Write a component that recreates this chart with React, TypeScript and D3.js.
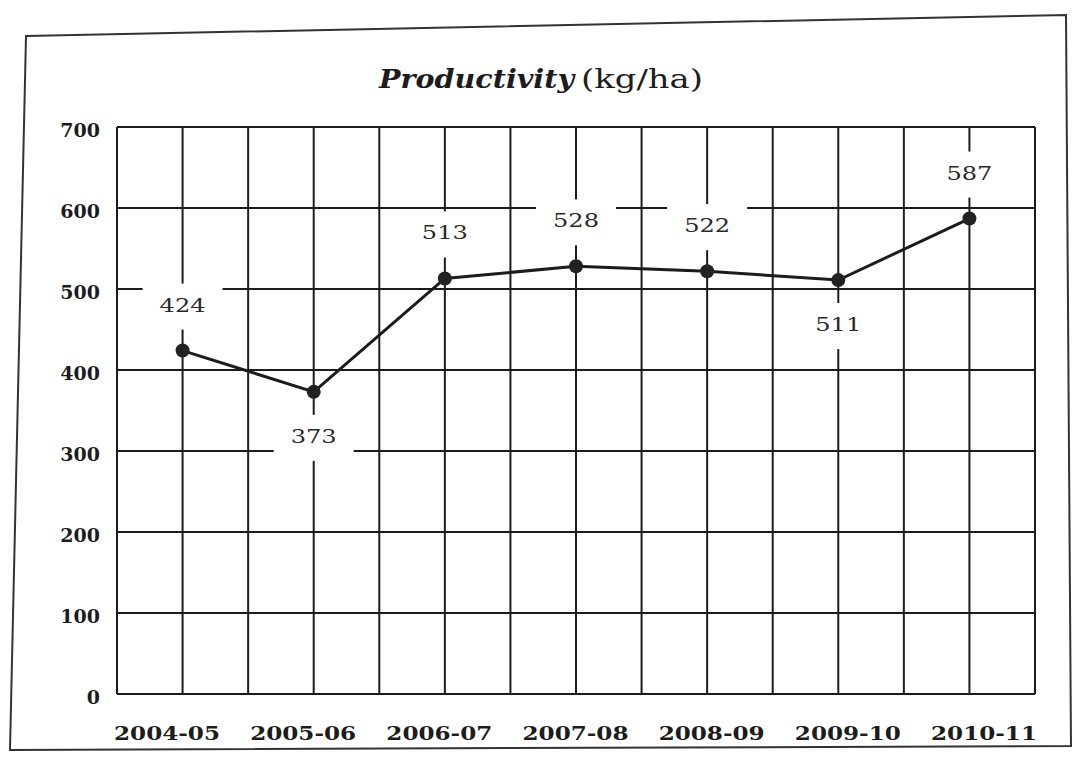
import React from "react";
import * as d3 from "d3";

const categories = ["2004-05", "2005-06", "2006-07", "2007-08", "2008-09", "2009-10", "2010-11"];
const productivity = [424, 373, 513, 528, 522, 511, 587];
const labelSide = ["above", "below", "above", "above", "above", "below", "above"];
const yTicks = [0, 100, 200, 300, 400, 500, 600, 700];

const W = 1074;
const H = 758;
const plot = { left: 117, right: 1035, top: 127, bottom: 694 };
const ink = "#1c1c1c";
const serif = "'DejaVu Serif', serif";

export default function App() {
  const x = d3.scaleLinear().domain([-0.5, categories.length - 0.5]).range([plot.left, plot.right]);
  const y = d3.scaleLinear().domain([0, 700]).range([plot.bottom, plot.top]);
  const xLabel = d3.scalePoint<string>().domain(categories).range([167, 984]);
  const vGrid = d3.range(-0.5, categories.length, 0.5);
  const line = d3
    .line<number>()
    .x((_, i) => x(i))
    .y((v) => y(v));

  const labelY = (v: number, i: number) => (labelSide[i] === "above" ? y(v) - 44 : y(v) + 46);

  return (
    <svg
      width={W}
      height={H}
      style={{ position: "absolute", left: 0, top: 0, background: "#fff" }}
    >
      <rect x={0} y={0} width={W} height={H} fill="#fff" />
      {/* outer frame */}
      <polygon
        points="26,36 1066,15 1071,746 10,750"
        fill="none"
        stroke="#333"
        strokeWidth={2}
      />
      {/* title */}
      <text
        x={379}
        y={88}
        fontFamily={serif}
        fontStyle="italic"
        fontWeight="bold"
        fontSize={26}
        fill={ink}
        textLength={195}
        lengthAdjust="spacingAndGlyphs"
      >
        Productivity
      </text>
      <text
        x={581}
        y={88}
        fontFamily={serif}
        fontSize={26}
        fill={ink}
        textLength={122}
        lengthAdjust="spacingAndGlyphs"
      >
        (kg/ha)
      </text>

      {/* grid */}
      {yTicks.map((t) => (
        <line key={"h" + t} x1={plot.left} x2={plot.right} y1={y(t)} y2={y(t)} stroke={ink} strokeWidth={2} />
      ))}
      {vGrid.map((g) => (
        <line key={"v" + g} x1={x(g)} x2={x(g)} y1={plot.top} y2={plot.bottom} stroke={ink} strokeWidth={2} />
      ))}

      {/* y tick labels */}
      {yTicks.map((t) => (
        <text
          key={"yl" + t}
          x={plot.left - 17}
          y={y(t) + 5}
          textAnchor="end"
          dominantBaseline="middle"
          fontFamily={serif}
          fontWeight="bold"
          fontSize={19}
          fill={ink}
        >
          {t}
        </text>
      ))}

      {/* x tick labels */}
      {categories.map((c) => (
        <text
          key={"xl" + c}
          x={xLabel(c)}
          y={740}
          textAnchor="middle"
          fontFamily={serif}
          fontWeight="bold"
          fontSize={19}
          fill={ink}
          textLength={106}
          lengthAdjust="spacingAndGlyphs"
        >
          {c}
        </text>
      ))}

      {/* label backgrounds */}
      {productivity.map((v, i) => (
        <rect key={"bg" + i} x={x(i) - 40} y={labelY(v, i) - 23} width={80} height={46} fill="#fff" />
      ))}

      {/* line and points */}
      <path d={line(productivity) || ""} fill="none" stroke={ink} strokeWidth={3} />
      {productivity.map((v, i) => (
        <circle key={"pt" + i} cx={x(i)} cy={y(v)} r={7} fill="#222" />
      ))}

      {/* value labels */}
      {productivity.map((v, i) => (
        <text
          key={"vl" + i}
          x={x(i)}
          y={labelY(v, i)}
          textAnchor="middle"
          dominantBaseline="middle"
          fontFamily={serif}
          fontSize={19}
          fill="#2a2a2a"
          textLength={46}
          lengthAdjust="spacingAndGlyphs"
        >
          {v}
        </text>
      ))}
    </svg>
  );
}
